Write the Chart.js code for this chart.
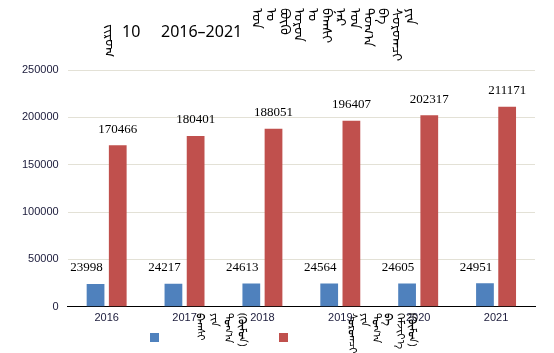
<!DOCTYPE html>
<html>
<head>
<meta charset="utf-8">
<script src="https://cdn.jsdelivr.net/npm/chart.js@4.4.1/dist/chart.umd.min.js"></script>
<style>
  body { margin: 0; background: #fff; }
  #wrap { position: relative; width: 554px; height: 353px; }
  .mn { position: absolute; display: flex; font-family: 'Noto Sans', 'DejaVu Sans', sans-serif; color: #000; }
  .mn span { writing-mode: vertical-lr; line-height: 12px; }
  .tt { position: absolute; top: 20px; font-family: 'Noto Sans', sans-serif; font-size: 16px; color: #000; white-space: pre; }
</style>
</head>
<body>
<div id="wrap">
  <canvas id="chart" width="554" height="353"></canvas>
  <div class="mn" style="left:104px;top:24px;font-size:14px"><span>ᠵᠢᠷᠤᠭ</span></div>
  <div class="tt" style="left:122px">10</div>
  <div class="tt" style="left:161px">2016–2021</div>
  <div class="mn" id="titleMn" style="left:251px;top:8px;font-size:14px;gap:2px"></div>
  <div class="mn" id="leg1" style="left:195px;top:313px;font-size:11px;gap:2px"></div>
  <div class="mn" id="leg2" style="left:347px;top:313px;font-size:11px;gap:0px"></div>
</div>
<script>
// years on the x axis
const years = ['2016', '2017', '2018', '2019', '2020', '2021'];
// blue series (teachers) and red series (students)
const teachers = [23998, 24217, 24613, 24564, 24605, 24951];
const students = [170466, 180401, 188051, 196407, 202317, 211171];

const titleWords = ['ᠣᠨ', 'ᠤ', 'ᠪᠦᠬᠦ', 'ᠣᠷᠤᠨ', 'ᠤ', 'ᠪᠠᠭᠰᠢ', 'ᠨᠠᠷ', 'ᠤᠨ', 'ᠲᠣᠭ᠎ᠠ', 'ᠪᠠ', 'ᠰᠤᠷᠤᠭᠴᠢ', 'ᠶᠢᠨ'];
const legendWords1 = ['ᠪᠠᠭᠰᠢ', 'ᠶᠢᠨ', 'ᠲᠣᠭ᠎ᠠ', '(ᠬᠦᠮᠦᠨ)'];
const legendWords2 = ['ᠰᠤᠷᠤᠭᠴᠢ', 'ᠶᠢᠨ', 'ᠲᠣᠭ᠎ᠠ', 'ᠪᠠ', 'ᠬᠡᠮᠵᠢᠶ᠎ᠡ', '(ᠬᠦᠮᠦᠨ)'];

const BLUE = '#4F81BD';
const RED = '#C0504D';

function fillWords(id, words) {
  document.getElementById(id).innerHTML = words.map(w => '<span>' + w + '</span>').join('');
}
fillWords('titleMn', titleWords);
fillWords('leg1', legendWords1);
fillWords('leg2', legendWords2);

// value labels above each bar
const valueLabels = {
  id: 'valueLabels',
  afterDatasetsDraw(chart) {
    const ctx = chart.ctx;
    ctx.save();
    ctx.font = '13px "Liberation Serif", serif';
    ctx.fillStyle = '#000';
    ctx.textAlign = 'center';
    ctx.textBaseline = 'middle';
    chart.data.datasets.forEach((ds, di) => {
      chart.getDatasetMeta(di).data.forEach((bar, i) => {
        const p = bar.getProps(['x', 'y'], true);
        const dx = di === 0 ? -9 : 0;
        ctx.fillText(String(ds.data[i]), p.x + dx, p.y - 16);
      });
    });
    ctx.restore();
  }
};

// legend boxes drawn below the axis
const legendBoxes = {
  id: 'legendBoxes',
  afterDraw(chart) {
    const ctx = chart.ctx;
    ctx.save();
    ctx.fillStyle = BLUE;
    ctx.fillRect(150, 333, 9, 9);
    ctx.fillStyle = RED;
    ctx.fillRect(279, 333, 9, 9);
    ctx.restore();
  }
};

new Chart(document.getElementById('chart').getContext('2d'), {
  type: 'bar',
  data: {
    labels: years,
    datasets: [
      { data: teachers, backgroundColor: BLUE, categoryPercentage: 0.57, barPercentage: 0.8 },
      { data: students, backgroundColor: RED, categoryPercentage: 0.57, barPercentage: 0.8 }
    ]
  },
  options: {
    responsive: false,
    animation: false,
    layout: { padding: { top: 70, right: 19, bottom: 23, left: 13 } },
    plugins: { legend: { display: false }, tooltip: { enabled: false } },
    scales: {
      x: {
        grid: { display: false, drawTicks: false },
        border: { color: '#000', width: 1 },
        ticks: { color: '#1a1a3a', font: { family: 'Liberation Sans', size: 11 }, padding: 5 }
      },
      y: {
        min: 0, max: 250000,
        ticks: { stepSize: 50000, color: '#1a1a3a', font: { family: 'Liberation Sans', size: 11 }, padding: 9, callback: v => String(v) },
        grid: { color: '#e3e1d6', drawTicks: false },
        border: { display: false }
      }
    }
  },
  plugins: [valueLabels, legendBoxes]
});
</script>
</body>
</html>
